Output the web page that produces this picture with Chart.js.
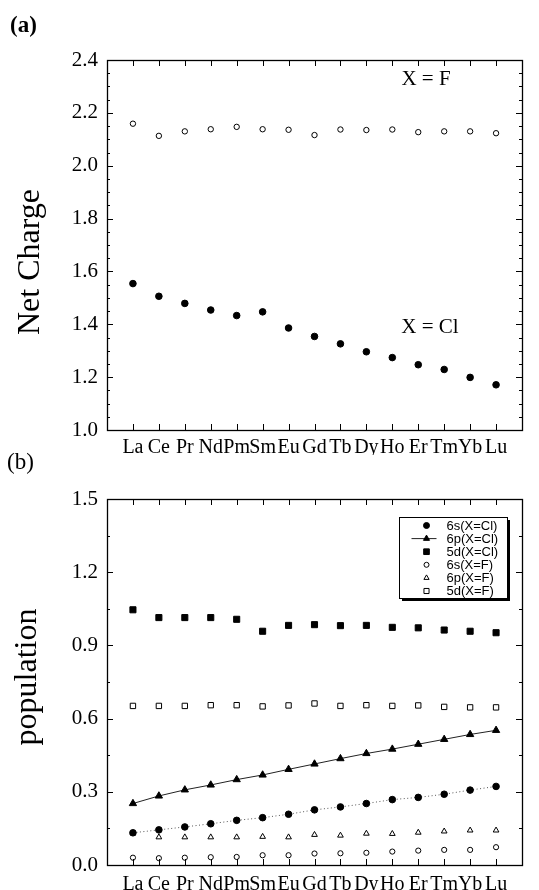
<!DOCTYPE html>
<html><head><meta charset="utf-8">
<script src="https://cdn.jsdelivr.net/npm/chart.js@4.4.1/dist/chart.umd.min.js"></script>
<style>
html,body{margin:0;padding:0;background:#fff;}
#wrap{position:relative;width:539px;height:890px;overflow:hidden;background:#fff;}
canvas{position:absolute;left:0;}
.panel{position:absolute;font-family:'Liberation Serif','Times New Roman',serif;font-size:23px;color:#000;line-height:1;}
</style></head><body>
<div id="wrap">
<canvas id="c1" width="539" height="455" style="top:0"></canvas>
<canvas id="c2" width="539" height="440" style="top:450px"></canvas>
<div class="panel" style="left:10px;top:13px;font-weight:bold">(a)</div>
<div class="panel" style="left:7px;top:450px">(b)</div>
</div>
<script>
// ---- data ----
const elements = ['La','Ce','Pr','Nd','Pm','Sm','Eu','Gd','Tb','Dy','Ho','Er','Tm','Yb','Lu'];
const netChargeF  = [2.159,2.113,2.130,2.138,2.147,2.138,2.136,2.116,2.137,2.135,2.137,2.127,2.130,2.130,2.123];
const netChargeCl = [1.554,1.506,1.479,1.454,1.433,1.447,1.386,1.354,1.326,1.296,1.274,1.247,1.229,1.199,1.171];
const pop6sCl = [0.132,0.144,0.156,0.169,0.183,0.194,0.208,0.226,0.238,0.252,0.268,0.277,0.290,0.307,0.322];
const pop6pCl = [0.252,0.283,0.308,0.328,0.350,0.369,0.392,0.414,0.436,0.457,0.475,0.495,0.515,0.535,0.552];
const pop5dCl = [1.046,1.014,1.014,1.014,1.007,0.958,0.982,0.985,0.981,0.982,0.974,0.972,0.963,0.958,0.952];
const pop6sF  = [0.030,0.028,0.030,0.032,0.033,0.040,0.040,0.047,0.048,0.050,0.055,0.059,0.062,0.062,0.073];
const pop6pF  = [0.130,0.114,0.114,0.114,0.114,0.116,0.114,0.124,0.121,0.129,0.128,0.133,0.138,0.142,0.142];
const pop5dF  = [0.652,0.652,0.652,0.655,0.655,0.650,0.654,0.662,0.652,0.655,0.652,0.654,0.648,0.646,0.646];
const topYTicks = [1.0,1.2,1.4,1.6,1.8,2.0,2.2,2.4];
const botYTicks = [0.0,0.3,0.6,0.9,1.2,1.5];
const topNotes = [{text:'X = F', x:11.3, y:2.325},{text:'X = Cl', x:11.45, y:1.388}];

// ---- helpers ----
const SERIF = "'Liberation Serif','Times New Roman',serif";
const SANS = "'Liberation Sans',Arial,sans-serif";
Chart.defaults.font.family = SERIF;
Chart.defaults.color = '#000';
const pts = arr => arr.map((v,i)=>({x:i,y:v}));

const frameTicks = {
  id:'frameTicks',
  afterDatasetsDraw(chart, args, o){
    const {ctx, chartArea:a, scales:{x,y}} = chart;
    ctx.save();
    ctx.strokeStyle='#000'; ctx.lineWidth=1;
    const ln=(x1,y1,x2,y2)=>{ctx.beginPath();ctx.moveTo(x1,y1);ctx.lineTo(x2,y2);ctx.stroke();};
    x.ticks.forEach(t=>{
      const px=Math.round(x.getPixelForValue(t.value))+0.5;
      ln(px,a.bottom,px,a.bottom-6); ln(px,a.top,px,a.top+6);
    });
    const n=Math.round((y.max-y.min)/o.minor);
    for(let i=0;i<=n;i++){
      const v=y.min+i*o.minor;
      const major=(i% o.per)===0;
      const py=Math.round(y.getPixelForValue(v))+0.5;
      const L=major?6:3;
      ln(a.left,py,a.left+L,py); ln(a.right,py,a.right-L,py);
    }
    ctx.lineWidth=1.3;
    ctx.strokeRect(Math.round(a.left)+0.5,Math.round(a.top)+0.5,Math.round(a.width),Math.round(a.height));
    // axis title
    ctx.save();
    ctx.font = o.titleSize+'px '+SERIF; ctx.fillStyle='#000';
    ctx.textAlign='center'; ctx.textBaseline='middle';
    ctx.translate(o.titleX, (a.top+a.bottom)/2 + o.titleDy);
    ctx.rotate(-Math.PI/2);
    ctx.fillText(o.title, 0, 0);
    ctx.restore();
    ctx.restore();
  }
};

const notes = {
  id:'notes',
  afterDatasetsDraw(chart){
    const {ctx, scales:{x,y}} = chart;
    ctx.save();
    ctx.font = '21px '+SERIF; ctx.fillStyle='#000';
    ctx.textAlign='center'; ctx.textBaseline='middle';
    topNotes.forEach(n=>ctx.fillText(n.text, x.getPixelForValue(n.x), y.getPixelForValue(n.y)));
    ctx.restore();
  }
};

function marker(ctx, style, x, y, r, filled){
  ctx.beginPath();
  if(style==='circle'){ctx.arc(x,y,r,0,Math.PI*2);}
  else if(style==='triangle'){
    ctx.moveTo(x,y-r); ctx.lineTo(x+r*0.866,y+r*0.5); ctx.lineTo(x-r*0.866,y+r*0.5); ctx.closePath();
  } else { const s=r*0.707; ctx.rect(x-s,y-s,2*s,2*s); }
  ctx.fillStyle = filled?'#000':'#fff'; ctx.fill();
  ctx.strokeStyle='#000'; ctx.lineWidth=1; ctx.stroke();
}

const boxLegend = {
  id:'boxLegend',
  afterDraw(chart){
    const {ctx, chartArea:a} = chart;
    const w=108, h=81, left=Math.round(a.right-123)+0.5, top=Math.round(a.top+18)+0.5;
    ctx.save();
    ctx.fillStyle='#000'; ctx.fillRect(left+2.5,top+2.5,w,h);
    ctx.fillStyle='#fff'; ctx.fillRect(left,top,w,h);
    ctx.strokeStyle='#000'; ctx.lineWidth=1; ctx.strokeRect(left,top,w,h);
    ctx.font='13px '+SANS; ctx.textAlign='left'; ctx.textBaseline='middle';
    chart.data.datasets.forEach((ds,i)=>{
      const cy=top+8+i*13.1, mx=left+27;
      if(ds.legendLine){ctx.strokeStyle='#222';ctx.lineWidth=1;ctx.beginPath();ctx.moveTo(left+12,cy);ctx.lineTo(left+37,cy);ctx.stroke();}
      marker(ctx, ds.pointStyle, mx, cy, ds.legendR, ds.filled);
      ctx.fillStyle='#000'; ctx.fillText(ds.label, left+47, cy+0.5);
    });
    ctx.restore();
  }
};

function xAxis(pad){
  return {
    type:'linear', min:-1, max:15,
    afterBuildTicks: s=>{ s.ticks = elements.map((_,i)=>({value:i})); },
    afterFit: s=>{ s.height=25; },
    grid:{display:false, drawTicks:false}, border:{display:false},
    ticks:{autoSkip:false, maxRotation:0, minRotation:0, padding:pad,
      font:{size:20, family:SERIF}, color:'#000',
      callback:(v)=>elements[v]}
  };
}
function yAxis(min,max,tickVals){
  return {
    type:'linear', min, max,
    afterBuildTicks: s=>{ s.ticks = tickVals.map(v=>({value:v})); },
    afterFit: s=>{ s.width=107; },
    grid:{display:false, drawTicks:false}, border:{display:false},
    ticks:{padding:9, font:{size:21, family:SERIF}, color:'#000', callback:v=>Number(v).toFixed(1)},
    title:{display:false}
  };
}
const common = {responsive:false, animation:false, devicePixelRatio:1};

new Chart(document.getElementById('c1'), {
  type:'scatter',
  data:{datasets:[
    {label:'X = Cl', data:pts(netChargeCl), pointStyle:'circle', pointRadius:3.3, pointBackgroundColor:'#000', pointBorderColor:'#000', pointBorderWidth:1},
    {label:'X = F', data:pts(netChargeF), pointStyle:'circle', pointRadius:2.7, pointBackgroundColor:'#fff', pointBorderColor:'#000', pointBorderWidth:1}
  ]},
  options:Object.assign({}, common, {
    layout:{padding:{left:0,right:17,top:60,bottom:0}},
    scales:{x:xAxis(6), y:yAxis(1.0,2.4,topYTicks)},
    plugins:{legend:{display:false}, tooltip:{enabled:false},
      frameTicks:{minor:0.05, per:4, title:'Net Charge', titleSize:32, titleX:31, titleDy:17}}
  }),
  plugins:[frameTicks, notes]
});

new Chart(document.getElementById('c2'), {
  type:'scatter',
  data:{datasets:[
    {label:'6s(X=Cl)', data:pts(pop6sCl), showLine:true, borderColor:'#555', borderWidth:1, borderDash:[1,2.5], tension:0,
      pointStyle:'circle', pointRadius:3.3, pointBackgroundColor:'#000', pointBorderColor:'#000', filled:true, legendR:3},
    {label:'6p(X=Cl)', data:pts(pop6pCl), showLine:true, borderColor:'#222', borderWidth:1, tension:0,
      pointStyle:'triangle', pointRadius:4.2, pointBackgroundColor:'#000', pointBorderColor:'#000', filled:true, legendR:3.5, legendLine:true},
    {label:'5d(X=Cl)', data:pts(pop5dCl), pointStyle:'rect', pointRadius:4.3, pointBackgroundColor:'#000', pointBorderColor:'#000', filled:true, legendR:4},
    {label:'6s(X=F)', data:pts(pop6sF), pointStyle:'circle', pointRadius:2.6, pointBackgroundColor:'#fff', pointBorderColor:'#000', pointBorderWidth:1, filled:false, legendR:2.5},
    {label:'6p(X=F)', data:pts(pop6pF), pointStyle:'triangle', pointRadius:3.3, pointBackgroundColor:'#fff', pointBorderColor:'#000', pointBorderWidth:1, filled:false, legendR:3},
    {label:'5d(X=F)', data:pts(pop5dF), pointStyle:'rect', pointRadius:3.8, pointBackgroundColor:'#fff', pointBorderColor:'#000', pointBorderWidth:1, filled:false, legendR:3.6}
  ]},
  options:Object.assign({}, common, {
    layout:{padding:{left:0,right:17,top:49,bottom:0}},
    scales:{x:xAxis(8), y:yAxis(0,1.5,botYTicks)},
    plugins:{legend:{display:false}, tooltip:{enabled:false},
      frameTicks:{minor:0.15, per:2, title:'population', titleSize:32, titleX:28, titleDy:-5}}
  }),
  plugins:[frameTicks, boxLegend]
});
</script>
</body></html>
